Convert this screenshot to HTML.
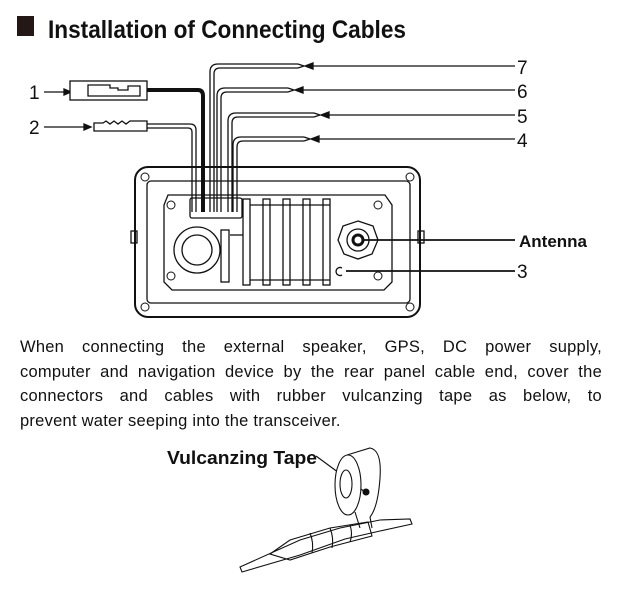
<!DOCTYPE html>
<html><head><meta charset="utf-8"><style>
body{margin:0;background:#fff;width:629px;height:589px;overflow:hidden;font-family:"Liberation Sans",sans-serif}
.p{position:absolute;left:20px;top:335px;width:582px;font-size:16.5px;letter-spacing:0.25px;line-height:24.5px;color:#111}
.p div{text-align:justify;text-align-last:justify;white-space:nowrap}
.p div.l{text-align-last:left}
</style></head><body>
<svg width="629" height="589" style="position:absolute;left:0;top:0" font-family="Liberation Sans, sans-serif">
<rect x="17" y="16" width="17" height="20" fill="#231815"/>
<text x="48" y="38" font-size="25" font-weight="bold" textLength="358" lengthAdjust="spacingAndGlyphs" fill="#111">Installation of Connecting Cables</text>
<g stroke="#111" fill="none" stroke-width="1.3">
<line x1="44" y1="92" x2="64" y2="92"/><path d="M64,89 L71,92 L64,95Z" fill="#111"/>
<line x1="44" y1="127" x2="84" y2="127"/><path d="M84,124 L91,127 L84,130Z" fill="#111"/>
<rect x="70" y="81" width="77" height="19" fill="#fff"/>
<path d="M88,85 H110 V88 H118 V90 H128 V86 H140 V96 H88Z"/>
<path d="M147,90 H198 Q203,90 203,96 V212" stroke-width="4" stroke="#111"/>
<path d="M94,123 H103 L106,121 L110,124 L114,121 L118,124 L122,121 L126,124 L130,121 L147,121 V131 H94Z"/>
<path d="M147,124 H190 Q196,124 196,130 V212 M147,128 H188 Q192,128 192,132 V212"/>
<path d="M210,212 V72 Q210,64 218,64 H298 M214,212 V74 Q214,68 220,68 H298"/>
<path d="M217,212 V96 Q217,88 225,88 H288 M221,212 V98 Q221,92 227,92 H288"/>
<path d="M228,212 V121 Q228,113 236,113 H314 M232,212 V123 Q232,117 238,117 H314"/>
<path d="M233,212 V145 Q233,137 241,137 H304 M237,212 V147 Q237,141 243,141 H304"/>
<path d="M298,64 L304,66 L298,68 M288,88 L294,90 L288,92 M314,113 L320,115 L314,117 M304,137 L310,139 L304,141"/>
<line x1="310" y1="66" x2="515" y2="66"/><path d="M305,66 L313,63 L313,69Z" fill="#111"/>
<line x1="300" y1="90" x2="515" y2="90"/><path d="M295,90 L303,87 L303,93Z" fill="#111"/>
<line x1="326" y1="115" x2="515" y2="115"/><path d="M321,115 L329,112 L329,118Z" fill="#111"/>
<line x1="316" y1="139" x2="515" y2="139"/><path d="M311,139 L319,136 L319,142Z" fill="#111"/>
<rect x="135" y="167" width="285" height="150" rx="13" stroke-width="2"/>
<rect x="147" y="181" width="263" height="122" rx="4"/>
<path d="M168,195 H385 L392,205 V282 L384,290 H172 L164,282 V205Z"/>
<rect x="190" y="198" width="52" height="20" rx="2"/>
<circle cx="197" cy="250" r="23"/><circle cx="197" cy="250" r="15"/>
<rect x="221" y="230" width="8" height="52"/>
<rect x="243" y="199" width="7" height="86"/><rect x="263" y="199" width="7" height="86"/><rect x="283" y="199" width="7" height="86"/><rect x="303" y="199" width="7" height="86"/><rect x="323" y="199" width="7" height="86"/>
<line x1="230" y1="235" x2="243" y2="235"/><line x1="250" y1="205" x2="330" y2="205"/><line x1="250" y1="280" x2="330" y2="280"/>
<path d="M358,221 L373,226 L378,240 L372,254 L358,259 L344,254 L338,240 L343,226Z"/>
<circle cx="358" cy="240" r="11"/><circle cx="358" cy="240" r="5" stroke-width="3"/>
<rect x="131" y="231" width="6" height="12"/><rect x="418" y="231" width="6" height="12"/>
<path d="M342,268 A4,4 0 1 0 342,275"/>
<line x1="362" y1="240" x2="515" y2="240" stroke-width="1.8"/>
<line x1="346" y1="271" x2="515" y2="271" stroke-width="1.8"/>
<g stroke-width="1">
<circle cx="145" cy="177" r="4"/><circle cx="410" cy="177" r="4"/><circle cx="145" cy="307" r="4"/><circle cx="410" cy="307" r="4"/>
<circle cx="171" cy="205" r="4"/><circle cx="378" cy="205" r="4"/><circle cx="171" cy="276" r="4"/><circle cx="378" cy="276" r="4"/>
</g>
</g>
<g font-size="19" fill="#111">
<text x="29" y="99">1</text><text x="29" y="134">2</text>
<text x="517" y="74">7</text><text x="517" y="98">6</text><text x="517" y="123">5</text><text x="517" y="147">4</text>
<text x="517" y="278">3</text>
<text x="519" y="247" font-size="17" font-weight="bold">Antenna</text>
<text x="167" y="464" font-size="18" font-weight="bold" textLength="150" lengthAdjust="spacingAndGlyphs">Vulcanzing Tape</text>
</g>
<g stroke="#111" fill="none" stroke-width="1.1">
<line x1="316" y1="456" x2="365" y2="492"/><circle cx="366" cy="492" r="3" fill="#111"/>
<path d="M347,455 L370,448 Q382,450 380,478 Q378,507 370,517"/>
<ellipse cx="348" cy="485" rx="13" ry="30" fill="#fff"/>
<ellipse cx="346" cy="484" rx="6" ry="14"/>
<path d="M355,512 L360,528 M370,517 L372,528"/>
<path d="M240,567 L300,540 L340,528 L380,520 L410,519 L412,524 L380,531 L345,539 L300,555 L242,572Z"/>
<path d="M270,554 L290,540 L330,528 L368,522 L372,536 L330,547 L290,560Z"/>
<path d="M310,533 Q314,543 312,553 M330,528 Q334,538 332,548 M350,525 Q353,534 350,542"/>
</g>
</svg>
<div class="p">
<div>When connecting the external speaker, GPS, DC power supply,</div>
<div>computer and navigation device by the rear panel cable end, cover the</div>
<div>connectors and cables with rubber vulcanzing tape as below, to</div>
<div class="l">prevent water seeping into the transceiver.</div>
</div>
</body></html>
